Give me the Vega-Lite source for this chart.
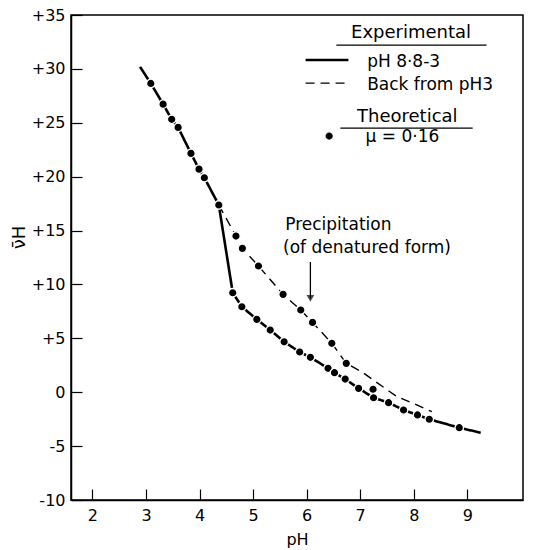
{
  "$schema": "https://vega.github.io/schema/vega-lite/v6.json",
  "width": 452,
  "height": 485,
  "autosize": {"type": "none"},
  "padding": {"left": 71, "top": 15, "right": 10, "bottom": 50},
  "background": "white",
  "config": {
    "font": "DejaVu Sans",
    "view": {"stroke": "black", "strokeWidth": 1.5},
    "axis": {
      "grid": false,
      "zindex": 1,
      "domainColor": "black",
      "domainWidth": 1.5,
      "tickColor": "black",
      "tickWidth": 1.2,
      "tickSize": -11,
      "labelColor": "black",
      "labelFontSize": 16,
      "labelPadding": 17,
      "titleColor": "black",
      "titleFontSize": 16,
      "titleFontWeight": "normal"
    }
  },
  "datasets": {
    "curves": [
      {"pH": 2.89, "nu": 30.19, "series": "pH 8·8-3"},
      {"pH": 3.09, "nu": 28.65, "series": "pH 8·8-3"},
      {"pH": 3.32, "nu": 26.73, "series": "pH 8·8-3"},
      {"pH": 3.48, "nu": 25.32, "series": "pH 8·8-3"},
      {"pH": 3.60, "nu": 24.57, "series": "pH 8·8-3"},
      {"pH": 3.84, "nu": 22.16, "series": "pH 8·8-3"},
      {"pH": 3.99, "nu": 20.70, "series": "pH 8·8-3"},
      {"pH": 4.09, "nu": 19.90, "series": "pH 8·8-3"},
      {"pH": 4.36, "nu": 17.37, "series": "pH 8·8-3"},
      {"pH": 4.62, "nu": 9.23, "series": "pH 8·8-3"},
      {"pH": 4.79, "nu": 7.93, "series": "pH 8·8-3"},
      {"pH": 5.07, "nu": 6.76, "series": "pH 8·8-3"},
      {"pH": 5.32, "nu": 5.77, "series": "pH 8·8-3"},
      {"pH": 5.58, "nu": 4.68, "series": "pH 8·8-3"},
      {"pH": 5.87, "nu": 3.73, "series": "pH 8·8-3"},
      {"pH": 6.07, "nu": 3.24, "series": "pH 8·8-3"},
      {"pH": 6.40, "nu": 2.22, "series": "pH 8·8-3"},
      {"pH": 6.52, "nu": 1.81, "series": "pH 8·8-3"},
      {"pH": 6.72, "nu": 1.22, "series": "pH 8·8-3"},
      {"pH": 6.97, "nu": 0.36, "series": "pH 8·8-3"},
      {"pH": 7.25, "nu": -0.51, "series": "pH 8·8-3"},
      {"pH": 7.53, "nu": -0.97, "series": "pH 8·8-3"},
      {"pH": 7.81, "nu": -1.65, "series": "pH 8·8-3"},
      {"pH": 8.07, "nu": -2.11, "series": "pH 8·8-3"},
      {"pH": 8.29, "nu": -2.51, "series": "pH 8·8-3"},
      {"pH": 8.85, "nu": -3.29, "series": "pH 8·8-3"},
      {"pH": 9.25, "nu": -3.76, "series": "pH 8·8-3"},
      {"pH": 4.36, "nu": 17.37, "series": "Back from pH3"},
      {"pH": 4.68, "nu": 14.49, "series": "Back from pH3"},
      {"pH": 4.80, "nu": 13.35, "series": "Back from pH3"},
      {"pH": 5.10, "nu": 11.71, "series": "Back from pH3"},
      {"pH": 5.56, "nu": 9.08, "series": "Back from pH3"},
      {"pH": 5.89, "nu": 7.63, "series": "Back from pH3"},
      {"pH": 6.11, "nu": 6.48, "series": "Back from pH3"},
      {"pH": 6.47, "nu": 4.54, "series": "Back from pH3"},
      {"pH": 6.74, "nu": 2.68, "series": "Back from pH3"},
      {"pH": 7.05, "nu": 1.83, "series": "Back from pH3"},
      {"pH": 7.41, "nu": 0.55, "series": "Back from pH3"},
      {"pH": 7.69, "nu": -0.42, "series": "Back from pH3"},
      {"pH": 8.01, "nu": -1.08, "series": "Back from pH3"},
      {"pH": 8.34, "nu": -1.81, "series": "Back from pH3"}
    ],
    "theory": [
      {"pH": 3.09, "nu": 28.65},
      {"pH": 3.32, "nu": 26.73},
      {"pH": 3.48, "nu": 25.32},
      {"pH": 3.60, "nu": 24.57},
      {"pH": 3.84, "nu": 22.16},
      {"pH": 3.99, "nu": 20.70},
      {"pH": 4.09, "nu": 19.90},
      {"pH": 4.36, "nu": 17.37},
      {"pH": 4.62, "nu": 9.23},
      {"pH": 4.79, "nu": 7.93},
      {"pH": 5.07, "nu": 6.76},
      {"pH": 5.32, "nu": 5.77},
      {"pH": 5.58, "nu": 4.68},
      {"pH": 5.87, "nu": 3.73},
      {"pH": 6.07, "nu": 3.24},
      {"pH": 6.40, "nu": 2.22},
      {"pH": 6.52, "nu": 1.81},
      {"pH": 6.72, "nu": 1.22},
      {"pH": 6.97, "nu": 0.36},
      {"pH": 7.24, "nu": 0.27},
      {"pH": 7.25, "nu": -0.51},
      {"pH": 7.53, "nu": -0.97},
      {"pH": 7.81, "nu": -1.65},
      {"pH": 8.07, "nu": -2.11},
      {"pH": 8.29, "nu": -2.51},
      {"pH": 8.85, "nu": -3.29},
      {"pH": 4.68, "nu": 14.49},
      {"pH": 4.80, "nu": 13.35},
      {"pH": 5.10, "nu": 11.71},
      {"pH": 5.56, "nu": 9.08},
      {"pH": 5.89, "nu": 7.63},
      {"pH": 6.11, "nu": 6.48},
      {"pH": 6.47, "nu": 4.54},
      {"pH": 6.74, "nu": 2.68},
      {"pH": 6.42, "nu": 23.77}
    ],
    "key": [
      {"pH": 5.98, "pH2": 6.78, "nu": 30.82, "series": "pH 8·8-3"},
      {"pH": 5.98, "pH2": 6.78, "nu": 28.68, "series": "Back from pH3"}
    ],
    "underlines": [
      {"pH": 6.555, "pH2": 9.36, "nu": 32.21},
      {"pH": 6.63, "pH2": 9.10, "nu": 24.51}
    ],
    "notes": [
      {"pH": 7.95, "nu": 33.32, "label": "Experimental", "kind": "head"},
      {"pH": 7.13, "nu": 30.65, "label": "pH 8·8-3", "kind": "item"},
      {"pH": 7.13, "nu": 28.55, "label": "Back from pH3", "kind": "item"},
      {"pH": 7.88, "nu": 25.53, "label": "Theoretical", "kind": "head"},
      {"pH": 7.10, "nu": 23.67, "label": "μ = 0·16", "kind": "item"},
      {"pH": 5.6, "nu": 15.51, "label": "Precipitation", "kind": "item"},
      {"pH": 5.56, "nu": 13.38, "label": "(of denatured form)", "kind": "item"}
    ],
    "arrow": [
      {"pH": 6.07, "nu": 12.08, "nu2": 8.7}
    ]
  },
  "layer": [
    {
      "data": {"name": "curves"},
      "mark": {"type": "line", "color": "black"},
      "encoding": {
        "x": {"field": "pH", "type": "quantitative", "scale": {"domain": [1.6, 10.04], "nice": false, "zero": false},
              "axis": {"values": [2, 3, 4, 5, 6, 7, 8, 9], "format": "d", "title": "pH", "titlePadding": 8, "labelPadding": 18}},
        "y": {"field": "nu", "type": "quantitative", "scale": {"domain": [-10, 35], "nice": false, "zero": false},
              "axis": {"values": [-10, -5, 0, 5, 10, 15, 20, 25, 30, 35],
                       "labelExpr": "datum.value > 0 ? '+' + datum.value : '' + datum.value",
                       "title": "ν̄H", "titleX": -52, "titleY": 222, "titleAngle": 270, "titleBaseline": "middle", "titleFontSize": 18}},
        "detail": {"field": "series"},
        "strokeDash": {"field": "series", "type": "nominal", "scale": {"domain": ["pH 8·8-3", "Back from pH3"], "range": [[1, 0], [9, 6]]}, "legend": null},
        "strokeWidth": {"field": "series", "type": "nominal", "scale": {"domain": ["pH 8·8-3", "Back from pH3"], "range": [2.6, 1.4]}, "legend": null}
      }
    },
    {
      "data": {"name": "key"},
      "mark": {"type": "rule", "color": "black"},
      "encoding": {
        "x": {"field": "pH", "type": "quantitative"},
        "x2": {"field": "pH2"},
        "y": {"field": "nu", "type": "quantitative"},
        "strokeDash": {"field": "series", "type": "nominal", "legend": null},
        "strokeWidth": {"field": "series", "type": "nominal", "legend": null}
      }
    },
    {
      "data": {"name": "underlines"},
      "mark": {"type": "rule", "color": "black", "strokeWidth": 1.3},
      "encoding": {
        "x": {"field": "pH", "type": "quantitative"},
        "x2": {"field": "pH2"},
        "y": {"field": "nu", "type": "quantitative"}
      }
    },
    {
      "data": {"name": "arrow"},
      "mark": {"type": "rule", "color": "black", "strokeWidth": 1.3},
      "encoding": {
        "x": {"field": "pH", "type": "quantitative"},
        "y": {"field": "nu", "type": "quantitative"},
        "y2": {"field": "nu2"}
      }
    },
    {
      "data": {"name": "arrow"},
      "mark": {"type": "point", "shape": "triangle-down", "filled": true, "color": "black", "size": 60},
      "encoding": {
        "x": {"field": "pH", "type": "quantitative"},
        "y": {"field": "nu2", "type": "quantitative"}
      }
    },
    {
      "data": {"name": "theory"},
      "mark": {"type": "circle", "color": "black", "size": 72, "opacity": 1, "stroke": "white", "strokeWidth": 1.3},
      "encoding": {
        "x": {"field": "pH", "type": "quantitative"},
        "y": {"field": "nu", "type": "quantitative"}
      }
    },
    {
      "data": {"name": "notes"},
      "transform": [{"filter": "datum.kind === 'head'"}],
      "mark": {"type": "text", "align": "center", "baseline": "middle", "fontSize": 18, "color": "black"},
      "encoding": {
        "x": {"field": "pH", "type": "quantitative"},
        "y": {"field": "nu", "type": "quantitative"},
        "text": {"field": "label"}
      }
    },
    {
      "data": {"name": "notes"},
      "transform": [{"filter": "datum.kind === 'item'"}],
      "mark": {"type": "text", "align": "left", "baseline": "middle", "fontSize": 17, "color": "black"},
      "encoding": {
        "x": {"field": "pH", "type": "quantitative"},
        "y": {"field": "nu", "type": "quantitative"},
        "text": {"field": "label"}
      }
    }
  ]
}
